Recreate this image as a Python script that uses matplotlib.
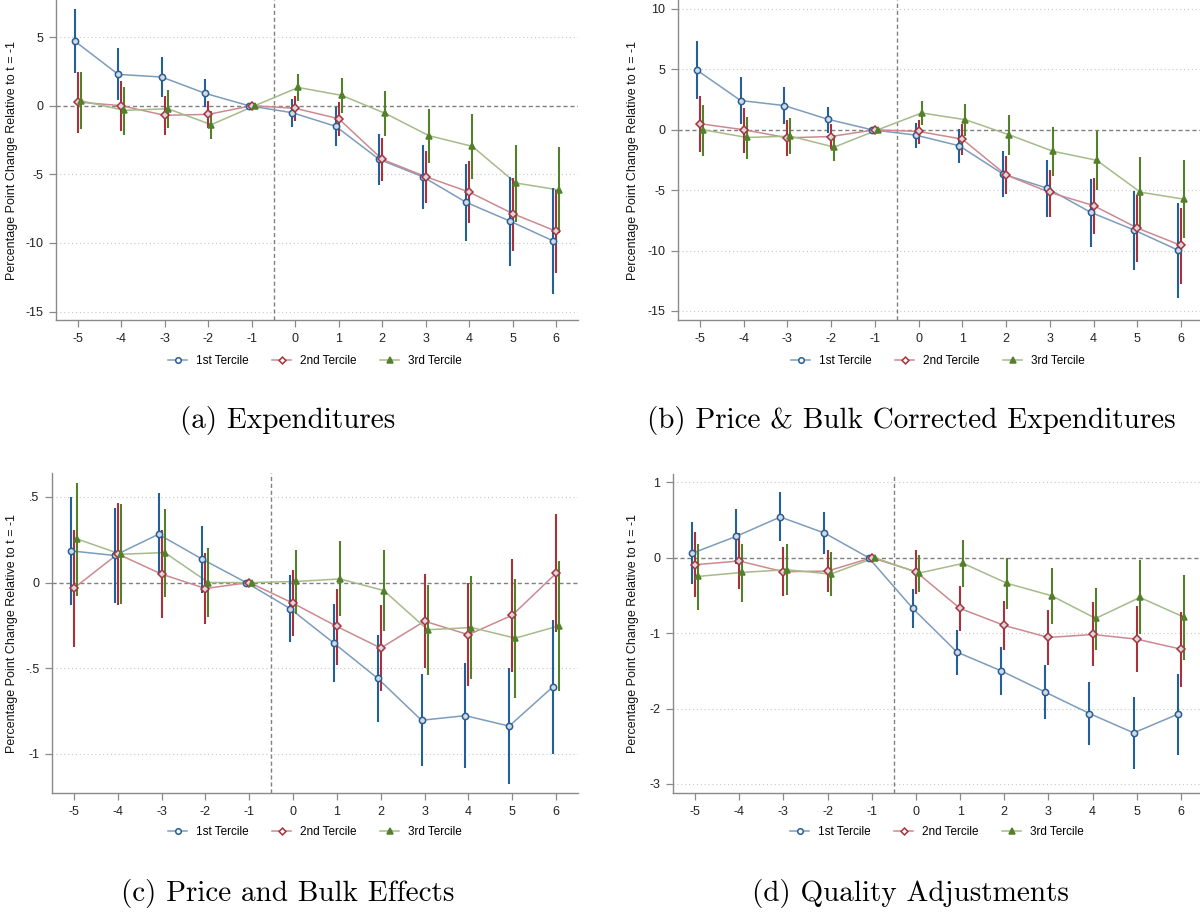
import numpy as np
import matplotlib
matplotlib.use("Agg")
import matplotlib.pyplot as plt
from matplotlib.lines import Line2D

# event time
T = [-5, -4, -3, -2, -1, 0, 1, 2, 3, 4, 5, 6]
SERIES = ["1st Tercile", "2nd Tercile", "3rd Tercile"]

# (a) Expenditures
A_T1 = [4.71, 2.28, 2.09, 0.90, 0, -0.51, -1.50, -3.91, -5.17, -7.04, -8.40, -9.85]
A_T1_LO = [2.40, 0.41, 0.61, -0.12, 0, -1.53, -2.91, -5.78, -7.52, -9.83, -11.65, -13.71]
A_T1_HI = [7.01, 4.17, 3.57, 1.92, 0, 0.51, -0.07, -2.06, -2.84, -4.25, -5.17, -6.02]
A_T2 = [0.27, 0.0, -0.70, -0.63, 0, -0.19, -0.95, -3.91, -5.17, -6.29, -7.86, -9.15]
A_T2_LO = [-1.97, -1.82, -2.14, -1.65, 0, -1.14, -2.21, -5.49, -7.06, -8.52, -10.56, -12.16]
A_T2_HI = [2.48, 1.77, 0.73, 0.36, 0, 0.70, 0.29, -2.35, -3.28, -4.03, -5.29, -6.14]
A_T3 = [0.36, -0.34, -0.22, -1.38, 0, 1.33, 0.75, -0.56, -2.18, -2.96, -5.63, -6.14]
A_T3_LO = [-1.72, -2.14, -1.65, -2.45, 0, 0.36, -0.56, -2.21, -4.20, -5.36, -8.50, -9.30]
A_T3_HI = [2.43, 1.33, 1.14, -0.36, 0, 2.31, 2.01, 1.07, -0.22, -0.61, -2.84, -2.99]

# (b) Price & Bulk Corrected Expenditures
B_T1 = [4.94, 2.42, 2.00, 0.86, 0, -0.44, -1.33, -3.67, -4.83, -6.83, -8.31, -9.97]
B_T1_LO = [2.58, 0.47, 0.47, -0.25, 0, -1.50, -2.78, -5.58, -7.19, -9.67, -11.64, -13.92]
B_T1_HI = [7.33, 4.33, 3.53, 1.92, 0, 0.58, 0.03, -1.78, -2.47, -4.06, -5.03, -6.06]
B_T2 = [0.50, 0.0, -0.67, -0.56, 0, -0.14, -0.78, -3.75, -5.19, -6.28, -8.14, -9.58]
B_T2_LO = [-1.83, -1.89, -2.17, -1.58, 0, -1.14, -2.08, -5.36, -7.25, -8.64, -10.92, -12.75]
B_T2_HI = [2.78, 1.78, 0.81, 0.44, 0, 0.81, 0.44, -2.17, -3.31, -3.97, -5.39, -6.50]
B_T3 = [0.0, -0.64, -0.53, -1.44, 0, 1.39, 0.83, -0.42, -1.78, -2.53, -5.17, -5.75]
B_T3_LO = [-2.17, -2.44, -2.00, -2.56, 0, 0.36, -0.53, -2.08, -3.83, -5.00, -8.14, -8.97]
B_T3_HI = [2.03, 1.08, 0.94, -0.44, 0, 2.39, 2.11, 1.19, 0.22, -0.11, -2.25, -2.53]

# (c) Price and Bulk Effects
C_T1 = [0.185, 0.158, 0.282, 0.136, 0, -0.152, -0.354, -0.560, -0.805, -0.778, -0.839, -0.609]
C_T1_LO = [-0.134, -0.120, 0.045, -0.062, 0, -0.350, -0.584, -0.817, -1.074, -1.086, -1.175, -1.002]
C_T1_HI = [0.500, 0.434, 0.525, 0.331, 0, 0.045, -0.125, -0.305, -0.535, -0.471, -0.502, -0.218]
C_T2 = [-0.033, 0.167, 0.049, -0.035, 0, -0.121, -0.257, -0.383, -0.226, -0.305, -0.191, 0.054]
C_T2_LO = [-0.377, -0.134, -0.210, -0.241, 0, -0.315, -0.480, -0.634, -0.500, -0.607, -0.523, -0.290]
C_T2_HI = [0.307, 0.467, 0.307, 0.171, 0, 0.074, -0.035, -0.132, 0.047, -0.004, 0.138, 0.400]
C_T3 = [0.255, 0.165, 0.175, 0.0, 0, 0.006, 0.021, -0.047, -0.276, -0.263, -0.325, -0.253]
C_T3_LO = [-0.078, -0.126, -0.086, -0.204, 0, -0.183, -0.198, -0.286, -0.541, -0.562, -0.677, -0.636]
C_T3_HI = [0.584, 0.457, 0.428, 0.200, 0, 0.190, 0.241, 0.190, -0.014, 0.037, 0.021, 0.125]

# (d) Quality Adjustments
D_T1 = [0.058, 0.283, 0.540, 0.327, 0, -0.673, -1.252, -1.500, -1.783, -2.066, -2.323, -2.075]
D_T1_LO = [-0.345, -0.084, 0.217, 0.049, 0, -0.938, -1.558, -1.823, -2.142, -2.487, -2.805, -2.620]
D_T1_HI = [0.469, 0.650, 0.867, 0.606, 0, -0.411, -0.956, -1.186, -1.420, -1.642, -1.841, -1.540]
D_T2 = [-0.093, -0.044, -0.186, -0.177, 0, -0.186, -0.673, -0.898, -1.058, -1.018, -1.080, -1.212]
D_T2_LO = [-0.527, -0.420, -0.513, -0.456, 0, -0.478, -0.978, -1.230, -1.420, -1.442, -1.522, -1.712]
D_T2_HI = [0.341, 0.327, 0.142, 0.097, 0, 0.106, -0.372, -0.571, -0.700, -0.588, -0.637, -0.721]
D_T3 = [-0.248, -0.195, -0.159, -0.217, 0, -0.204, -0.075, -0.341, -0.504, -0.805, -0.527, -0.788]
D_T3_LO = [-0.699, -0.593, -0.500, -0.504, 0, -0.460, -0.385, -0.677, -0.876, -1.221, -1.018, -1.363]
D_T3_HI = [0.186, 0.186, 0.181, 0.071, 0, 0.040, 0.239, -0.004, -0.137, -0.398, -0.035, -0.230]

YTICKS_A = [5, 0, -5, -10, -15]
YTICKS_B = [10, 5, 0, -5, -10, -15]
YTICKS_C = [0.5, 0, -0.5, -1]
YTICKS_C_LABELS = [".5", "0", "-.5", "-1"]
YTICKS_D = [1, 0, -1, -2, -3]

CAPTIONS = ["(a) Expenditures", "(b) Price & Bulk Corrected Expenditures",
            "(c) Price and Bulk Effects", "(d) Quality Adjustments"]

ERR_COLORS = ["#245f98", "#a8323b", "#55802b"]
LINE_COLORS = ["#7d9cbc", "#cc8a90", "#a5bb8a"]
MARKERS = ["o", "D", "^"]
MSIZES = [4.5, 4.0, 5.0]
OFFSETS = [-0.07, 0.0, 0.07]

W, H = 1200, 913
plt.rcParams['font.family'] = ['Liberation Sans', 'DejaVu Sans']
fig = plt.figure(figsize=(W / 100, H / 100), dpi=100)


def px_axes(left, right, top, bottom):
    ax = fig.add_axes([left / W, 1 - bottom / H, (right - left) / W, (bottom - top) / H])
    ax.px_left, ax.px_width = left, right - left
    return ax


def draw_panel(ax, series, ylim, yticks, ylabels=None, label_px=19):
    for i, (coef, lo, hi) in enumerate(series):
        xs = np.array(T) + OFFSETS[i]
        ax.plot(xs, coef, color=LINE_COLORS[i], lw=1.1, zorder=3)
        ax.vlines(xs, lo, hi, color=ERR_COLORS[i], lw=1.5, zorder=4)
        mfc = ERR_COLORS[i] if MARKERS[i] == "^" else "#d8d8e0"
        ax.plot(xs, coef, ls="none", marker=MARKERS[i], ms=MSIZES[i], mfc=mfc,
                mec=ERR_COLORS[i], mew=1.1, zorder=5)
    ax.axhline(0, color="#808080", ls=(0, (3, 2)), lw=1.0, zorder=2)
    ax.axvline(-0.5, color="#808080", ls=(0, (3, 2)), lw=1.0, zorder=2)
    for y in yticks:
        if y != 0:
            ax.axhline(y, color="#c8c8c8", ls=(0, (1, 2.5)), lw=0.8, zorder=1)
    ax.set_xlim(-5.5, 6.5)
    ax.set_ylim(*ylim)
    ax.set_xticks(T)
    ax.set_xticklabels([str(t) for t in T])
    ax.set_yticks(yticks)
    ax.set_yticklabels(ylabels if ylabels else [str(y) for y in yticks])
    for s in ["top", "right"]:
        ax.spines[s].set_visible(False)
    for s in ["left", "bottom"]:
        ax.spines[s].set_color("#8a8a8a")
        ax.spines[s].set_linewidth(1.0)
    ax.tick_params(colors="#8a8a8a", labelcolor="#222222", labelsize=9, length=5, width=0.9, pad=4)
    ax.set_ylabel("Percentage Point Change Relative to t = -1", fontsize=9, color="#111111")
    ax.yaxis.set_label_coords((label_px - ax.px_left) / ax.px_width, 0.5)


def add_legend(cx, cy):
    handles = []
    for i in range(3):
        mfc = ERR_COLORS[i] if MARKERS[i] == "^" else "white"
        handles.append(Line2D([], [], color=LINE_COLORS[i], lw=1.1, marker=MARKERS[i],
                              ms=MSIZES[i] - 0.5, mfc=mfc, mec=ERR_COLORS[i], mew=1.1))
    fig.legend(handles, SERIES, loc="center", bbox_to_anchor=(cx / W, 1 - cy / H), ncol=3,
               frameon=False, fontsize=8.5, handlelength=1.6, columnspacing=2.0, handletextpad=0.75)


ax_a = px_axes(56, 578, 0, 320)
draw_panel(ax_a, [(A_T1, A_T1_LO, A_T1_HI), (A_T2, A_T2_LO, A_T2_HI), (A_T3, A_T3_LO, A_T3_HI)],
           (-15.61, 7.7), YTICKS_A, label_px=18)
ax_b = px_axes(678, 1203, 0, 320)
draw_panel(ax_b, [(B_T1, B_T1_LO, B_T1_HI), (B_T2, B_T2_LO, B_T2_HI), (B_T3, B_T3_LO, B_T3_HI)],
           (-15.75, 10.74), YTICKS_B, label_px=639)
ax_c = px_axes(52, 578, 473, 793)
draw_panel(ax_c, [(C_T1, C_T1_LO, C_T1_HI), (C_T2, C_T2_LO, C_T2_HI), (C_T3, C_T3_LO, C_T3_HI)],
           (-1.23, 0.64), YTICKS_C, YTICKS_C_LABELS, label_px=18)
ax_d = px_axes(673, 1203, 474, 793)
draw_panel(ax_d, [(D_T1, D_T1_LO, D_T1_HI), (D_T2, D_T2_LO, D_T2_HI), (D_T3, D_T3_LO, D_T3_HI)],
           (-3.12, 1.11), YTICKS_D, label_px=639)

add_legend(315, 361)
add_legend(938, 361)
add_legend(315, 832)
add_legend(937, 832)

for (cx, cy), cap in zip([(288, 420), (911, 420), (288, 893), (910, 893)], CAPTIONS):
    fig.text(cx / W, 1 - cy / H, cap, ha="center", va="center", fontsize=21, family="cmr10")

fig.savefig("out.png", dpi=100)
